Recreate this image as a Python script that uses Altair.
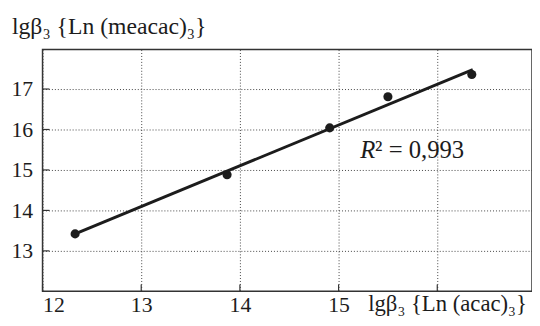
import altair as alt
import pandas as pd

# data
lg_acac = [12.33, 13.87, 14.91, 15.50, 16.35]
lg_meacac = [13.42, 14.88, 16.04, 16.81, 17.36]
fit_x = [12.33, 16.36]
fit_y = [13.42, 17.48]
x_ticks = [12, 13, 14, 15, 16]
y_ticks = [13, 14, 15, 16, 17]

pts = pd.DataFrame({"x": lg_acac, "y": lg_meacac})
fit = pd.DataFrame({"x": fit_x, "y": fit_y})
xt = pd.DataFrame({"v": x_ticks})
yt = pd.DataFrame({"v": y_ticks})

W, H = 496, 245
FONT = "Liberation Serif"
INK = "#1c1c1c"

xs = alt.Scale(domain=[12, 16.96], nice=False, zero=False)
ys = alt.Scale(domain=[12, 17.975], nice=False, zero=False)

xaxis = alt.Axis(values=x_ticks, format="d", labelExpr="datum.value == 16 ? '' : datum.label",
                 title=None, domain=False, ticks=False, labelPadding=3,
                 labelFont=FONT, labelFontSize=22, labelColor=INK,
                 grid=True, gridDash=[1, 2], gridColor="#444", gridWidth=1)
yaxis = alt.Axis(values=y_ticks, format="d", title=None, domain=False, ticks=False,
                 labelPadding=10, labelFont=FONT, labelFontSize=22, labelColor=INK,
                 grid=True, gridDash=[1, 2], gridColor="#444", gridWidth=1)

base_pts = alt.Chart(pts).mark_circle(size=85, color=INK, opacity=1).encode(
    x=alt.X("x:Q", scale=xs, axis=xaxis),
    y=alt.Y("y:Q", scale=ys, axis=yaxis),
)

line = alt.Chart(fit).mark_line(color=INK, strokeWidth=3).encode(
    x=alt.X("x:Q", scale=xs, axis=xaxis), y=alt.Y("y:Q", scale=ys, axis=yaxis)
)

xtick = alt.Chart(xt).mark_rule(color="#333", strokeWidth=1.2).encode(
    x=alt.X("v:Q", scale=xs, axis=xaxis), y=alt.value(H), y2=alt.value(H - 7)
)
ytick = alt.Chart(yt).mark_rule(color="#333", strokeWidth=1.2).encode(
    y=alt.Y("v:Q", scale=ys, axis=yaxis), x=alt.value(0), x2=alt.value(7)
)

ytitle = alt.Chart(pts).mark_text(text="lgβ₃ {Ln (meacac)₃}", font=FONT, fontSize=24,
                                  align="left", baseline="alphabetic", color=INK).encode(
    x=alt.value(-31), y=alt.value(-16)
).transform_filter("datum.x == 12.33")

xtitle = alt.Chart(pts).mark_text(text="lgβ₃ {Ln (acac)₃}", font=FONT, fontSize=23,
                                  align="left", baseline="alphabetic", color=INK).encode(
    x=alt.value(330), y=alt.value(265)
).transform_filter("datum.x == 12.33")

r_txt = alt.Chart(pts).mark_text(text="R", font=FONT, fontSize=25, fontStyle="italic",
                                 align="left", baseline="alphabetic", color=INK).encode(
    x=alt.value(322), y=alt.value(110)
).transform_filter("datum.x == 12.33")
r2_txt = alt.Chart(pts).mark_text(text="² = 0,993", font=FONT, fontSize=25,
                                  align="left", baseline="alphabetic", color=INK).encode(
    x=alt.value(337), y=alt.value(110)
).transform_filter("datum.x == 12.33")

chart = alt.layer(base_pts, line, xtick, ytick, ytitle, xtitle, r_txt, r2_txt).properties(
    width=W, height=H,
    autosize=alt.AutoSizeParams(type="none"),
    padding={"left": 35, "top": 40, "right": 0, "bottom": 33},
).configure_view(stroke="#333", strokeWidth=1.5).configure_axis(
    labelFont=FONT, labelFontSize=22, labelColor=INK
)

chart.save("out.html", embed_options={"renderer": "svg", "actions": False})
